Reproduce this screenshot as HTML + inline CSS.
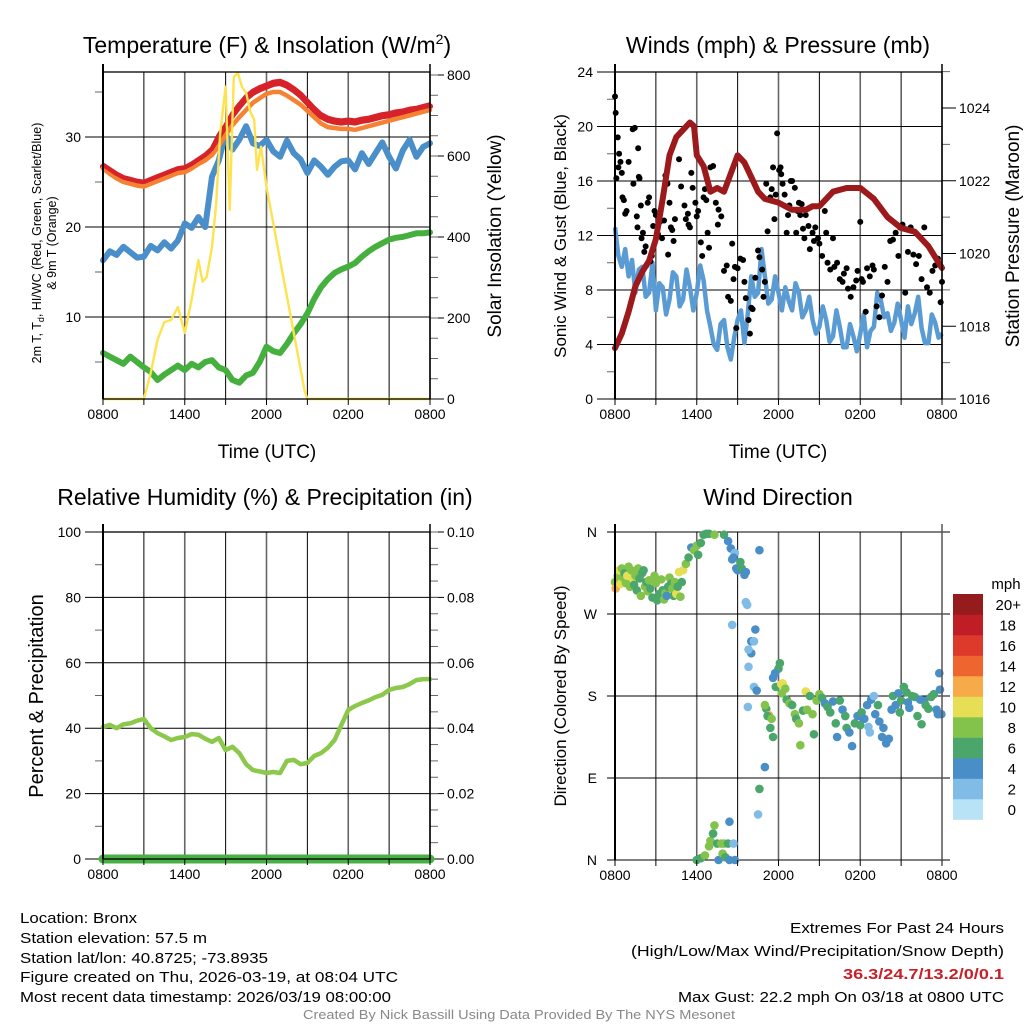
<!DOCTYPE html>
<html><head><meta charset="utf-8"><style>
html,body{margin:0;padding:0;background:#fff;}
svg{display:block;font-family:"Liberation Sans",sans-serif;}
</style></head><body>
<svg id="fig" width="1024" height="1024" viewBox="0 0 1024 1024" xmlns="http://www.w3.org/2000/svg">
<g id="static">
<text x="267" y="53" font-size="23" text-anchor="middle">Temperature (F) &amp; Insolation (W/m<tspan dy="-9" font-size="14">2</tspan><tspan dy="9">)</tspan></text>
<text x="778" y="53" font-size="23" text-anchor="middle">Winds (mph) &amp; Pressure (mb)</text>
<text x="265" y="505" font-size="23" text-anchor="middle">Relative Humidity (%) &amp; Precipitation (in)</text>
<text x="778" y="505" font-size="23" text-anchor="middle">Wind Direction</text>
<text x="267" y="458" font-size="19" text-anchor="middle">Time (UTC)</text>
<text x="778" y="458" font-size="19" text-anchor="middle">Time (UTC)</text>
<text transform="translate(41,243) rotate(-90)" font-size="12.5" text-anchor="middle">2m T, T<tspan font-size="9" dy="3">d</tspan><tspan dy="-3">, HI/WC (Red, Green, Scarlet/Blue)</tspan></text>
<text transform="translate(56,243) rotate(-90)" font-size="12.5" text-anchor="middle">&amp; 9m T (Orange)</text>
<text transform="translate(501,236) rotate(-90)" font-size="19" text-anchor="middle">Solar Insolation (Yellow)</text>
<text transform="translate(566,236) rotate(-90)" font-size="17" text-anchor="middle">Sonic Wind &amp; Gust (Blue, Black)</text>
<text transform="translate(1019,236) rotate(-90)" font-size="19" text-anchor="middle">Station Pressure (Maroon)</text>
<text transform="translate(43,696) rotate(-90)" font-size="20" text-anchor="middle">Percent &amp; Precipitation</text>
<text transform="translate(566,696) rotate(-90)" font-size="17" text-anchor="middle">Direction (Colored By Speed)</text>
<text x="1006" y="589" font-size="15" text-anchor="middle">mph</text>
<g font-family="'Liberation Sans Narrow','Liberation Sans',sans-serif" font-size="15">
<text x="20" y="923" textLength="117" lengthAdjust="spacingAndGlyphs">Location: Bronx</text>
<text x="20" y="943" textLength="187" lengthAdjust="spacingAndGlyphs">Station elevation: 57.5 m</text>
<text x="20" y="963" textLength="248" lengthAdjust="spacingAndGlyphs">Station lat/lon: 40.8725; -73.8935</text>
<text x="20" y="982" textLength="378" lengthAdjust="spacingAndGlyphs">Figure created on Thu, 2026-03-19, at 08:04 UTC</text>
<text x="20" y="1002" textLength="371" lengthAdjust="spacingAndGlyphs">Most recent data timestamp: 2026/03/19 08:00:00</text>
<text x="790" y="933" textLength="214" lengthAdjust="spacingAndGlyphs">Extremes For Past 24 Hours</text>
<text x="631" y="956" textLength="373" lengthAdjust="spacingAndGlyphs">(High/Low/Max Wind/Precipitation/Snow Depth)</text>
<text x="843" y="979" textLength="161" lengthAdjust="spacingAndGlyphs" font-weight="bold" fill="#c8202a">36.3/24.7/13.2/0/0.1</text>
<text x="678" y="1002" textLength="326" lengthAdjust="spacingAndGlyphs">Max Gust: 22.2 mph On 03/18 at 0800 UTC</text>
<text x="303" y="1019" textLength="432" lengthAdjust="spacingAndGlyphs" font-size="12.5" fill="#888">Created By Nick Bassill Using Data Provided By The NYS Mesonet</text>
</g>
</g>
</svg>
<script>
// ---------- data ----------
const hoursHalf = [0,0.5,1,1.5,2,2.5,3,3.5,4,4.5,5,5.5,6,6.5,7,7.5,8,8.5,9,9.5,10,10.5,11,11.5,12,12.5,13,13.5,14,14.5,15,15.5,16,16.5,17,17.5,18,18.5,19,19.5,20,20.5,21,21.5,22,22.5,23,23.5,24];
const hoursQuarter = Array.from({length:97},(_,i)=>i/4);
const tempRed = [26.7,26.2,25.7,25.3,25.1,24.9,24.8,25.1,25.4,25.7,26.0,26.3,26.4,26.8,27.3,27.8,28.5,30.0,31.1,32.4,33.4,34.3,34.9,35.3,35.6,35.9,36.0,35.7,35.2,34.6,33.8,33.0,32.3,31.9,31.7,31.6,31.7,31.6,31.8,31.9,32.1,32.3,32.4,32.6,32.7,32.9,33.0,33.2,33.4];
const temp9m = [26.5,25.9,25.4,25.0,24.8,24.6,24.5,24.8,25.1,25.4,25.7,26.0,26.1,26.5,27.0,27.4,28.0,29.0,30.2,31.3,32.2,33.0,33.8,34.3,34.8,35.0,35.0,34.6,34.1,33.6,32.9,32.2,31.5,31.1,31.0,30.9,30.9,30.8,31.0,31.2,31.4,31.6,31.8,32.0,32.2,32.4,32.6,32.8,33.0];
const heatIdx = [16.3,17.3,16.9,17.8,17.2,16.6,16.7,17.9,17.4,18.3,17.6,18.5,20.4,19.9,21.1,20.0,25.6,27.4,30.4,28.6,29.7,31.2,29.3,29.0,29.7,28.4,27.8,29.6,28.2,27.5,26.0,27.4,26.7,25.8,26.7,27.3,27.4,26.4,28.2,27.0,28.2,29.4,27.8,26.5,28.5,29.7,27.8,28.9,29.3];
const dewPt = [6.0,5.6,5.2,4.8,5.6,5.0,4.4,3.9,3.0,3.6,4.1,4.6,4.1,4.8,4.4,5.0,5.2,4.4,4.1,3.0,2.7,3.5,3.8,5.0,6.7,6.2,6.0,7.0,8.2,9.2,10.4,12.0,13.3,14.2,14.9,15.3,15.6,16.0,16.7,17.3,17.8,18.2,18.6,18.8,18.9,19.1,19.3,19.3,19.4];
const solarH = [0,3,3.5,4,4.5,5,5.5,6,6.5,7,7.3,7.6,8,8.3,8.6,9,9.3,9.6,9.9,10.2,10.5,10.8,11.1,11.3,11.6,12,13,14,14.8,15,24];
const solarV = [0,0,64,146,190,195,227,163,245,343,290,301,375,480,657,771,467,796,805,770,756,710,689,566,623,524,343,163,20,0,0];
const rhVals = [40.4,41.0,40.0,41.2,41.5,42.3,42.8,40.0,38.5,37.5,36.4,37.0,37.3,38.2,38.0,36.8,35.8,37.0,33.3,34.3,32.4,29.0,27.2,26.8,26.3,26.6,26.3,30.0,30.3,29.0,29.4,31.5,32.4,34.0,36.4,41.0,45.6,46.8,47.7,48.5,49.5,50.2,51.7,52.3,52.6,53.5,54.7,55.0,55.0];
const windSpd = [12.6,10.5,9.7,11,9.0,10.2,7.8,9.5,9.7,7.5,7.8,10,6.5,8.5,8.2,6.2,7.3,9.3,9.0,6.8,7.3,9.5,8.2,6.5,7.8,9.8,8.7,6.5,5.3,4,3.6,5.5,5.8,3.8,2.9,4.5,5.8,6.5,4.1,6.3,9.0,7.5,7.8,11,9.0,7,7.3,9,7.8,6.5,8.2,7.2,6.5,8.5,7.8,6,6.5,7.5,5.8,4.8,5.3,6.8,5.8,4.2,4.6,6.5,5.3,3.8,3.8,5.5,4.6,3.5,4.8,6.2,3.8,5,5.3,7.8,7.3,6,6.3,5,5.6,7,5.8,4.5,6.8,5.5,6.3,7.5,5.2,4.1,4.1,6.2,5.6,4.5,4.8];
const pressHr = [0,0.5,1,1.5,2,2.5,3,3.5,4,4.5,5,5.5,5.8,6,6.5,7,7.5,8,8.5,9,9.5,10,10.5,11,12,13,14,14.5,15,16,17,18,19,20,21,22,23,24];
const pressMb = [1017.4,1017.8,1018.4,1019.1,1019.5,1019.8,1020.4,1021.5,1022.7,1023.2,1023.4,1023.6,1023.5,1022.7,1022.4,1021.7,1021.8,1021.7,1022.2,1022.7,1022.5,1022.1,1021.7,1021.5,1021.4,1021.2,1021.2,1021.3,1021.3,1021.7,1021.8,1021.8,1021.5,1021.0,1020.7,1020.6,1020.2,1019.6];
const gustHr = [0,0.05,0.1,0.2,0.25,0.3,0.4,0.5,0.55,0.65,0.75,0.85,1.0,1.3,1.35,1.45,1.6,1.65,1.7,1.75,1.8,1.9,1.95,2.05,2.15,2.25,2.3,2.4,2.5,2.6,2.7,2.8,2.9,3.0,3.15,3.3,3.45,3.6,3.7,3.85,3.9,4.0,4.1,4.2,4.3,4.4,4.7,4.85,5.1,5.2,5.35,5.4,5.5,5.6,5.7,5.9,6.0,6.1,6.3,6.4,6.5,6.6,6.7,6.8,6.9,7.0,7.2,7.4,7.55,7.6,7.8,8.0,8.2,8.3,8.5,8.6,8.7,8.8,8.9,9.0,9.2,9.4,9.5,9.6,9.8,9.9,10.0,10.1,10.3,10.5,10.6,10.8,10.9,11.0,11.1,11.2,11.4,11.5,11.6,11.7,11.8,11.9,12.05,12.15,12.2,12.3,12.45,12.6,12.7,12.8,12.9,13.0,13.2,13.3,13.4,13.5,13.6,13.7,13.8,13.9,14.0,14.2,14.3,14.5,14.6,14.7,14.9,15.0,15.2,15.4,15.5,15.6,15.8,16.0,16.1,16.3,16.5,16.7,16.8,17.0,17.1,17.3,17.5,17.7,17.8,18.0,18.1,18.2,18.4,18.5,18.7,18.9,19.0,19.2,19.4,19.6,19.8,20.0,20.2,20.4,20.6,20.8,20.9,21.1,21.3,21.5,21.7,21.9,22.1,22.3,22.5,22.7,22.9,23.1,23.3,23.5,23.7,23.9,24.0];
const gustMph = [22.2,21,16.2,19.2,17,18,17.4,16.6,14.8,14.6,13.6,13.8,17.4,19.8,15.8,19.9,13.4,12.6,18.4,16.3,16.2,14.2,11.8,12.2,10.8,11.2,9.8,14.4,14.8,10.1,10.5,12.7,13.8,13.5,12.1,13,11.8,13.1,16.4,15.8,10.6,14.4,12.6,12.4,11.6,13.2,17.6,15.6,14.2,13.2,13.6,12.8,12.6,16.6,15.5,14.4,13.4,13.8,11.5,10.5,14.8,15.4,14.6,12.2,11.1,17,17.1,14.4,12.8,13.9,13.4,9.4,9.8,7.5,7.2,11.4,8.8,9.7,5.2,9.6,10.3,10.2,8.6,7.4,5.8,4.8,6.7,6.6,8.9,10.9,10.4,9.5,7.5,8.6,15.8,12.3,14.8,15.4,17,13.2,15,19.5,16.8,17,16.5,15.8,15,12.2,13.5,14.2,16,16,15.5,12.2,13.8,14.4,13.5,14.3,12.5,11.8,13.5,12.7,11,12.2,11.6,12.6,11.8,11.4,10.5,13.8,12.2,10,9.5,11.8,9.7,10,8.8,8.6,9.2,9.6,8.1,7.5,8.2,8.7,9.4,13,8.8,8.6,6.4,9.6,9,9.8,9.5,6.8,6,7.6,9.7,8.6,11.6,11.7,12.2,10.5,12.6,12.8,7.8,10.8,12.6,10.6,9.9,10.5,8.8,12.6,8.2,7.8,9.4,9.8,10.3,7.1,8.6,9];
const dirHr = [0,0.05,0.2,0.3,0.4,0.5,0.6,0.7,0.8,0.9,1.0,1.1,1.2,1.3,1.4,1.5,1.6,1.7,1.8,1.9,2.0,2.1,2.2,2.3,2.4,2.5,2.6,2.75,2.9,3.0,3.1,3.25,3.4,3.5,3.6,3.7,3.8,3.9,4.0,4.1,4.2,4.3,4.4,4.5,4.6,4.7,4.8,4.9,
 5.0,5.2,5.4,5.6,5.8,6.0,6.1,6.3,6.5,6.7,6.9,7.3,8.0,
 8.3,8.5,8.6,8.8,8.9,9.0,8.7,9.3,9.2,9.5,9.6,10.6,
 6.0,6.3,6.6,6.9,7.0,7.2,7.3,7.5,7.6,7.8,7.9,8.0,8.1,8.3,8.4,8.4,8.7,8.8,
 9.6,9.7,8.6,10.0,10.3,10.2,10.0,9.8,9.8,10.2,10.4,9.75,11.1,11.0,10.6,10.5,11.0,11.3,11.2,11.4,11.6,11.5,
 11.6,11.8,12.0,12.1,11.75,12.2,12.3,12.4,12.25,12.5,12.6,12.8,13.0,13.2,13.3,13.5,13.6,13.8,14.0,14.1,14.3,14.5,14.6,14.8,15.0,15.2,15.4,15.6,15.8,16.0,16.2,16.3,16.5,16.7,16.9,17.0,17.2,17.4,17.6,17.8,18.0,18.1,18.3,18.5,18.6,18.7,18.8,19.0,19.1,19.3,19.4,19.6,19.7,19.9,20.1,20.3,20.4,20.6,20.8,20.9,21.0,21.2,21.4,21.5,21.6,21.8,22.0,22.2,22.4,22.5,22.7,22.8,23.0,23.2,23.4,23.6,23.7,23.8,23.85,23.95];
const dirDeg = [305,298,312,318,303,320,310,315,304,312,322,300,318,309,302,312,296,320,309,290,315,318,300,305,295,307,298,288,312,304,285,292,308,296,286,293,290,300,310,303,298,290,305,292,300,316,289,305,
 318,325,332,343,340,345,335,348,357,358,358,357,357,
 350,342,330,337,320,318,332,320,327,313,316,340,
 0,2,5,15,21,29,38,18,0,18,7,18,3,18,0,42,18,0,
 283,280,258,240,253,240,227,231,212,190,186,168,166,102,78,50,170,159,158,145,135,155,
 200,190,210,216,205,193,194,190,183,188,176,172,170,160,155,150,126,164,185,165,180,160,138,175,182,178,172,168,162,174,150,135,175,165,158,145,140,125,150,158,148,162,155,170,146,140,176,180,160,170,152,135,145,128,133,165,180,170,183,162,175,190,184,173,167,180,179,158,176,149,175,170,166,179,182,165,160,205,187,160];
const dirSpd = [8,13,8,10,10,9,8,7,8,10,8,9,9,11,7,8,7,8,7,9,7,7,8,6,8,9,7,7,8,9,7,6,8,7,8,8,5,7,9,7,8,6,8,10,7,10,8,6,
 10,8,7,5,8,8,7,6,7,6,6,8,6,
 5,4,4,2,4,5,5,6,6,4,4,5,
 7,6,8,8,8,7,8,6,4,8,8,8,6,7,5,4,2,4,
 2,2,2,4,4,3,4,3,2,2,4,2,6,4,6,2,8,13,6,6,6,8,
 4,6,6,6,4,11,10,10,9,8,7,8,6,8,6,8,8,6,10,8,6,8,6,8,8,6,4,6,6,4,6,4,6,4,6,6,4,4,6,4,6,6,4,4,2,2,4,2,4,6,4,4,4,4,4,4,6,4,4,6,6,6,6,4,4,6,6,6,4,6,4,6,6,6,6,4,4,4,4,4];
const speedColors = ["#b8e3f6","#80bce6","#4a8ec7","#4aa66a","#83c34b","#e6df55","#f6aa48","#ef6530","#dd3a2c","#bf1e26","#961b1c"];
const legendLabels = ["0","2","4","6","8","10","12","14","16","18","20+"];
const timeLabels = ["0800","1400","2000","0200","0800"];
const tempTicks = [10,20,30];
const solarTicks = [0,200,400,600,800];
const windTicks = [0,4,8,12,16,20,24];
const pressTicks = [1016,1018,1020,1022,1024];
const rhTicks = [0,20,40,60,80,100];
const precipTicks = ["0.00","0.02","0.04","0.06","0.08","0.10"];
const dirLabels = ["N","E","S","W","N"];
const precipVals = hoursHalf.map(()=>0);

// ---------- helpers ----------
const NS="http://www.w3.org/2000/svg";
const svg=document.getElementById('fig');
function mk(tag,attrs,parent){const e=document.createElementNS(NS,tag);for(const k in attrs)e.setAttribute(k,attrs[k]);(parent||svg).appendChild(e);return e;}
function lin(d0,d1,r0,r1){return v=>r0+(v-d0)*(r1-r0)/(d1-d0);}
function pathOf(xs,ys,fx,fy){return xs.map((x,i)=>(i?'L':'M')+fx(x).toFixed(1)+','+fy(ys[i]).toFixed(1)).join('');}

function frame(name,x0,x1,y0,y1){
  const g=mk('g',{});
  
  
  for(let h=3;h<24;h+=3){
    const fx=lin(0,24,x0,x1);
    const l=mk('line',{x1:fx(h),x2:fx(h),y1:y0,y2:y1,stroke:(h%6===0)?'#666':'#000','stroke-width':(h%6===0)?1.6:1},g);
    
    
  }
  return g;
}
function border(name,x0,x1,y0,y1){
  const r=mk('rect',{x:x0,y:y0,width:x1-x0,height:y1-y0,fill:'none',stroke:'#000','stroke-width':1.3});
  
  
  mk('line',{x1:x0,x2:x0,y1:y0-8,y2:y1,stroke:'#000','stroke-width':2});
  mk('line',{x1:x1,x2:x1,y1:y0-8,y2:y1,stroke:'#000','stroke-width':1.5});
}
function xAxis(x0,x1,yb){
  const fx=lin(0,24,x0,x1);
  timeLabels.forEach((t,i)=>{
    const tx=mk('text',{x:fx(i*6),y:yb+20,'font-size':14,'text-anchor':'middle'});
    tx.textContent=t;
    
    
  });
  for(let h=0;h<=24;h+=3){mk('line',{x1:fx(h),x2:fx(h),y1:yb,y2:yb+6,stroke:'#000','stroke-width':1});}
}
function hGrid(fy,vals,x0,x1,labels,side){
  vals.forEach((v,i)=>{
    const y=fy(v);
    mk('line',{x1:x0,x2:x1,y1:y,y2:y,stroke:'#000','stroke-width':1});
    if(labels){
      const t=mk('text',{x:side==='l'?x0-22:x1+17,y:y+5,'font-size':14,'text-anchor':side==='l'?'end':'start'});
      t.textContent=labels[i];
      
      
      mk('line',{x1:side==='l'?x0-18:x1,x2:side==='l'?x0:x1+14,y1:y,y2:y,stroke:'#000','stroke-width':1});
    }
  });
}
function minorTicks(fy,from,to,step,x,dir){
  for(let v=from;v<=to+1e-9;v+=step){const y=fy(v);mk('line',{x1:x,x2:x+dir*8,y1:y,y2:y,stroke:'#666','stroke-width':1});}
}

// ---------- panel 1 ----------
(function(){
  const x0=103,x1=430,y0=72,y1=399;
  const fx=lin(0,24,x0,x1), fy=lin(0,10,407,317), fs=lin(0,800,399,75);
  frame('temperature',x0,x1,y0,y1);
  hGrid(fy,tempTicks,x0,x1,tempTicks.map(String),'l');
  solarTicks.forEach(v=>{const y=fs(v);mk('line',{x1:x1,x2:x1+14,y1:y,y2:y,stroke:'#000'});
    const t=mk('text',{x:x1+17,y:y+5,'font-size':14});t.textContent=String(v);
    
    });
  minorTicks(fy,5,35,10,x0,-1);minorTicks(fs,50,800,50,x1,1);
  const series=[[dewPt,'#46b03f','dewpoint-line'],[heatIdx,'#4a8fc9','heat-index-line'],[tempRed,'#d7222a','temperature-2m-line'],[temp9m,'#f58232','temperature-9m-line']];
  series.forEach((s,i)=>{
    const p=mk('path',{d:pathOf(hoursHalf,s[0],fx,fy),fill:'none',stroke:s[1],'stroke-width':i===3?4.5:6,'stroke-linejoin':'round','stroke-linecap':'round'});
    
    });
  const red=mk('path',{d:pathOf(hoursHalf,tempRed,fx,fy),fill:'none',stroke:'#d7222a','stroke-width':4.5,'stroke-linejoin':'round',transform:'translate(0,-2)'});
  
  
  const sol=mk('path',{d:pathOf(solarH,solarV,fx,fs),fill:'none',stroke:'#fce34f','stroke-width':2.4,'stroke-linejoin':'round'});
  
  
  border('temperature',x0,x1,y0,y1);
  xAxis(x0,x1,y1);
})();

// ---------- panel 2 ----------
(function(){
  const x0=615,x1=942,y0=72,y1=399;
  const fx=lin(0,24,x0,x1), fy=lin(0,24,399,72), fp=lin(1016,1024,399,108);
  frame('wind',x0,x1,y0,y1);
  hGrid(fy,windTicks,x0,x1,windTicks.map(String),'l');
  pressTicks.forEach(v=>{const y=fp(v);mk('line',{x1:x1,x2:x1+14,y1:y,y2:y,stroke:'#000'});
    const t=mk('text',{x:x1+17,y:y+5,'font-size':14});t.textContent=String(v);
    
    });
  minorTicks(fy,2,22,4,x0,-1);minorTicks(fp,1017,1025,2,x1,1);
  const w=mk('path',{d:pathOf(hoursQuarter,windSpd,fx,fy),fill:'none',stroke:'#5a9bd4','stroke-width':4.5,'stroke-linejoin':'round'});
  
  
  gustHr.forEach((h,i)=>{const c=mk('circle',{cx:fx(h),cy:fy(gustMph[i]),r:3,fill:'#000'});
    
    });
  const p=mk('path',{d:pathOf(pressHr,pressMb,fx,fp),fill:'none',stroke:'#9c1a1c','stroke-width':6,'stroke-linejoin':'round','stroke-linecap':'round'});
  
  
  border('wind',x0,x1,y0,y1);
  xAxis(x0,x1,y1);
})();

// ---------- panel 3 ----------
(function(){
  const x0=103,x1=430,y0=532,y1=859;
  const fx=lin(0,24,x0,x1), fy=lin(0,100,859,532), fq=lin(0,0.1,859,532);
  frame('humidity',x0,x1,y0,y1);
  hGrid(fy,rhTicks,x0,x1,rhTicks.map(String),'l');
  precipTicks.forEach(v=>{const y=fq(parseFloat(v));mk('line',{x1:x1,x2:x1+14,y1:y,y2:y,stroke:'#000'});
    const t=mk('text',{x:x1+17,y:y+5,'font-size':14});t.textContent=v;
    
    });
  minorTicks(fy,10,90,20,x0,-1);minorTicks(fq,0.005,0.1,0.005,x1,1);
  const r=mk('path',{d:pathOf(hoursHalf,rhVals,fx,fy),fill:'none',stroke:'#8cc84b','stroke-width':4.5,'stroke-linejoin':'round','stroke-linecap':'round'});
  
  
  const q=mk('path',{d:pathOf(hoursHalf,precipVals,fx,fq),fill:'none',stroke:'#48b044','stroke-width':9,'stroke-linecap':'round'});
  
  
  border('humidity',x0,x1,y0,y1);
  xAxis(x0,x1,y1);
})();

// ---------- panel 4 ----------
(function(){
  const x0=615,x1=942,y0=532,y1=860;
  const fx=lin(0,24,x0,x1), fy=lin(0,360,860,532);
  frame('direction',x0,x1,y0,y1);
  dirLabels.forEach((lab,i)=>{const y=fy(i*90);
    mk('line',{x1:x0-8,x2:x1+8,y1:y,y2:y,stroke:'#000'});
    const t=mk('text',{x:x0-18,y:y+5,'font-size':14,'text-anchor':'end'});t.textContent=lab;
    
    });
  dirHr.forEach((h,i)=>{const b=Math.min(10,Math.floor((dirSpd[i]||0)/2));
    const c=mk('circle',{cx:fx(h),cy:fy(dirDeg[i]),r:4.3,fill:speedColors[b]});
    
    });
  mk('line',{x1:x0,x2:x0,y1:y0-8,y2:y1,stroke:'#000','stroke-width':2});
  mk('line',{x1:x1,x2:x1,y1:y0-8,y2:y1,stroke:'#555','stroke-width':1.5});
  xAxis(x0,x1,y1);
  const bh=20.5, top=594;
  legendLabels.forEach((lab,i)=>{const y=top+(10-i)*bh;
    const r=mk('rect',{x:953,y:y,width:30,height:bh+0.3,fill:speedColors[i]});
    
    
    const t=mk('text',{x:i===10?1021:1016,y:y+16,'font-size':15,'text-anchor':'end'});t.textContent=lab;
    
    });
})();
</script>
</body></html>
